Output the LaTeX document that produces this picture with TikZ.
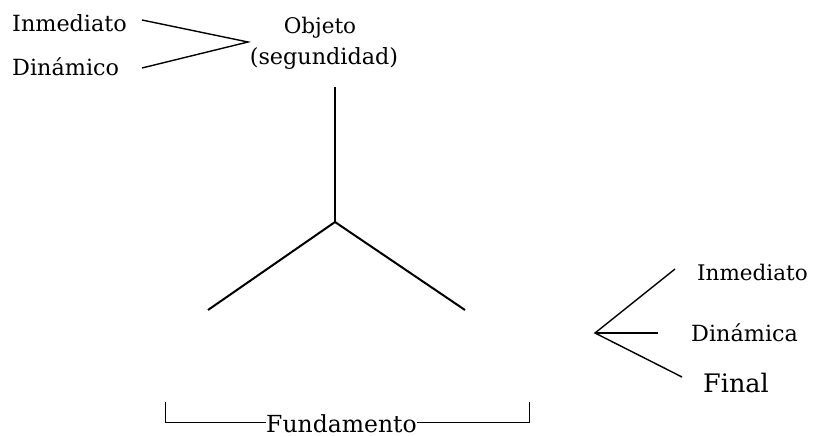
\documentclass[tikz,border=0pt]{standalone}
\usepackage{fontspec}
\setmainfont{DejaVu Serif}
\begin{document}
\begin{tikzpicture}[x=1pt,y=-1pt,
  lbl/.style={inner sep=0pt,anchor=base west},
  ctr/.style={inner sep=0pt,anchor=base},
  thick2/.style={line width=2pt},
  med/.style={line width=1.4pt},
  thin/.style={line width=1pt}]
\useasboundingbox (0,0) rectangle (819,436);
% top left
\node[lbl,font=\fontsize{22.3}{26}\selectfont] (inm1) at (12,32) {Inmediato};
\node[lbl,font=\fontsize{22.3}{26}\selectfont] (din1) at (12,75) {Dinámico};
\node[ctr,font=\fontsize{21.5}{25}\selectfont] (obj) at (320,34) {Objeto};
\node[ctr,font=\fontsize{22.3}{26}\selectfont] (seg) at (324,64) {(segundidad)};
\coordinate (a1) at (142,20);
\coordinate (a2) at (142,68);
\coordinate (av) at (248,42);
\draw[med] (a1) -- (av) -- (a2);
% tripod
\coordinate (top) at (335,87);
\coordinate (ctrp) at (335,222);
\coordinate (lft) at (208,310);
\coordinate (rgt) at (465,310);
\draw[thick2] (top) -- (ctrp);
\draw[thick2] (lft) -- (ctrp) -- (rgt);
% right fan
\node[lbl,font=\fontsize{21.5}{25}\selectfont] (inm2) at (697,280) {Inmediato};
\node[lbl,font=\fontsize{22.3}{26}\selectfont] (din2) at (691,341) {Dinámica};
\node[lbl,font=\fontsize{25.5}{30}\selectfont] (fin) at (703,392) {Final};
\coordinate (fv) at (595,333);
\coordinate (f1) at (675,269);
\coordinate (f2) at (658,333);
\coordinate (f3) at (682,377);
\draw[med] (f1) -- (fv) -- (f3);
\draw[med] (fv) -- (f2);
% bracket
\node[ctr,font=\fontsize{23.5}{28}\selectfont] (fund) at (341.5,432) {Fundamento};
\coordinate (bl) at (165,402);
\coordinate (br) at (529,402);
\coordinate (blc) at (165,422);
\coordinate (brc) at (529,422);
\draw[thin] (bl) -- (blc) -- (blc -| fund.west);
\draw[thin] (br) -- (brc) -- (brc -| fund.east);
\end{tikzpicture}
\end{document}
